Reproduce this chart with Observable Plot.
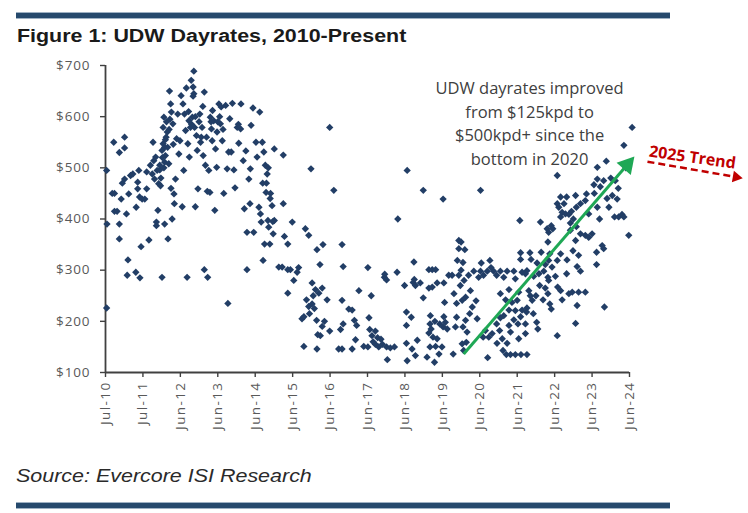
<!DOCTYPE html>
<html><head><meta charset="utf-8">
<script src="https://cdn.jsdelivr.net/npm/d3@7"></script>
<script src="https://cdn.jsdelivr.net/npm/@observablehq/plot@0.6"></script>
<style>
body{margin:0;background:#fff;width:748px;height:513px;position:relative;overflow:hidden;font-family:"Liberation Sans",Arial,sans-serif}
.bar{position:absolute;left:16px;width:654px;height:5px;background:#264a6d;border-top:1px solid #9fb2c4;border-bottom:1px solid #9fb2c4}
#title{position:absolute;left:17px;top:27px;font-size:18px;line-height:18px;font-weight:bold;color:#1a1a1a;white-space:nowrap;transform:scaleX(1.19);transform-origin:0 0}
#source{position:absolute;left:16px;top:467px;font-size:18.5px;line-height:18px;font-style:italic;color:#2a2a2a;white-space:nowrap;transform:scaleX(1.16);transform-origin:0 0}
#chart{position:absolute;left:0;top:50px}
#chart g[aria-label="x-axis tick label"] text{letter-spacing:1.4px}
#chart g[aria-label="y-axis tick label"] text{letter-spacing:0.9px}
</style>
</head><body>
<div class="bar" style="top:12px"></div>
<div id="title">Figure 1: UDW Dayrates, 2010-Present</div>
<div id="chart"></div>
<div id="source">Source: Evercore ISI Research</div>
<div class="bar" style="top:502px"></div>
<script>
// x = years since Jul-10 (tick index), y = dayrate in $k
const xTicks = [0,1,2,3,4,5,6,7,8,9,10,11,12,13,14];
const xLabels = ["Jul-10","Jul-11","Jun-12","Jun-13","Jun-14","Jun-15","Jun-16","Jun-17","Jun-18","Jun-19","Jun-20","Jun-21","Jun-22","Jun-23","Jun-24"];
const yTicks = [100,200,300,400,500,600,700];

const g2010 = [[0.03,495],[0.18,450],[0.24,450],[0.04,390],[0.03,226],[0.22,550],[0.37,530],[0.51,560],[0.51,539],[0.24,415],[0.31,415],[0.37,390],[0.37,361],[0.42,439],[0.45,470],[0.51,478],[0.56,410],[0.62,449],[0.6,320],[0.58,290],[0.67,485],[0.73,488],[0.81,296],[0.82,423],[0.86,472],[0.86,459],[0.89,495],[0.91,443],[0.92,285],[0.95,346],[0.98,439]];
const g2011 = [[1.05,439],[1.1,492],[1.1,459],[1.16,359],[1.2,505],[1.25,488],[1.27,550],[1.29,514],[1.31,478],[1.34,521],[1.36,394],[1.36,387],[1.38,495],[1.4,417],[1.42,469],[1.45,496],[1.47,465],[1.51,286],[1.51,534],[1.54,547],[1.54,579],[1.56,599],[1.58,390],[1.58,511],[1.6,524],[1.62,560],[1.65,570],[1.67,361],[1.69,508],[1.71,650],[1.74,625],[1.75,460],[1.76,609],[1.78,400],[1.8,586],[1.81,546],[1.83,449],[1.84,430],[1.87,478],[1.9,557],[1.93,605],[1.96,527],[1.99,553],[1.58,540],[1.6,555],[1.63,590],[1.66,540],[1.7,575],[1.52,520],[1.45,505],[1.48,480],[1.56,500],[1.72,595]];
const g2012 = [[2.02,641],[2.05,424],[2.07,625],[2.09,495],[2.11,605],[2.14,573],[2.16,656],[2.18,286],[2.2,547],[2.23,592],[2.24,521],[2.27,579],[2.29,671],[2.32,599],[2.34,658],[2.36,689],[2.36,645],[2.38,579],[2.4,424],[2.43,563],[2.45,534],[2.47,459],[2.52,605],[2.54,550],[2.58,579],[2.61,524],[2.64,648],[2.64,301],[2.67,505],[2.72,454],[2.73,286],[2.76,495],[2.79,452],[2.8,599],[2.83,576],[2.85,553],[2.89,592],[2.92,417],[2.94,537],[2.97,501],[2.98,570],[2.22,610],[2.3,585],[2.34,640],[2.4,600],[2.5,590],[2.56,560],[2.7,560],[2.82,590],[2.86,612],[2.6,620]];
const g2013 = [[3.03,625],[3.07,586],[3.09,619],[3.12,553],[3.16,450],[3.21,622],[3.25,498],[3.27,235],[3.29,531],[3.32,596],[3.36,531],[3.39,626],[3.43,496],[3.46,461],[3.52,579],[3.56,548],[3.61,576],[3.62,625],[3.68,514],[3.71,420],[3.75,533],[3.78,301],[3.78,374],[3.83,478],[3.86,430],[3.87,498],[3.89,583],[3.94,617],[3.96,374],[3.05,600],[3.14,575],[3.0,590],[3.55,585]];
const g2014 = [[4.02,550],[4.05,521],[4.1,423],[4.12,609],[4.14,410],[4.16,394],[4.19,550],[4.2,470],[4.21,319],[4.23,531],[4.25,351],[4.27,505],[4.29,452],[4.32,488],[4.34,397],[4.36,384],[4.39,351],[4.41,450],[4.45,426],[4.48,371],[4.51,537],[4.51,397],[4.63,306],[4.75,525],[4.75,430],[4.78,366],[4.87,351],[4.99,394],[4.72,306],[4.87,301],[4.94,301],[4.87,255],[4.3,470],[4.4,440],[4.47,395],[4.35,500]];
const g2015 = [[5.03,280],[5.16,305],[5.12,296],[5.34,381],[5.43,368],[5.49,498],[5.65,340],[5.81,350],[5.73,311],[5.99,579],[5.52,275],[5.61,262],[5.7,255],[5.79,265],[5.37,242],[5.43,229],[5.52,234],[5.92,242],[5.25,205],[5.3,209],[5.64,202],[5.79,190],[5.74,172],[5.67,174],[5.99,181],[5.3,151],[5.65,146],[5.55,250],[5.58,225],[5.45,215],[5.85,200]];
const g2016 = [[6.1,456],[6.32,350],[6.35,307],[6.32,241],[6.5,224],[6.59,222],[6.28,184],[6.35,195],[6.65,202],[6.71,192],[6.23,146],[6.32,146],[6.59,146],[6.68,164],[6.77,260],[6.9,151]];
const g2017 = [[7.01,305],[7.1,250],[7.04,207],[7.06,184],[7.12,172],[7.21,181],[7.27,168],[7.01,150],[7.21,155],[7.3,150],[7.51,150],[7.61,148],[7.72,150],[7.53,125],[7.45,286],[7.51,281],[7.79,296],[7.81,400],[7.99,270],[7.15,160],[7.4,155],[7.46,292],[7.36,165]];
const g2018 = [[8.06,495],[8.04,218],[8.17,208],[8.04,192],[8.04,157],[8.06,123],[8.19,146],[8.24,316],[8.22,276],[8.28,270],[8.41,275],[8.49,456],[8.49,246],[8.33,163],[8.28,133],[8.64,301],[8.73,301],[8.82,301],[8.64,265],[8.73,267],[8.86,275],[8.68,211],[8.67,195],[8.64,177],[8.75,169],[8.86,166],[8.93,195],[8.82,151],[8.99,150],[8.67,150],[8.59,130],[8.79,120],[8.91,136],[8.25,282],[8.7,185],[8.8,200]];
const g2019 = [[9.04,275],[9.02,439],[9.17,290],[9.26,290],[9.02,189],[9.08,198],[9.13,185],[9.04,209],[9.35,189],[9.38,208],[9.29,136],[9.38,235],[9.31,254],[9.06,237],[9.4,319],[9.44,342],[9.44,358],[9.44,290],[9.8,228],[9.73,215],[9.62,247],[9.53,241],[9.62,202],[9.55,189],[9.66,179],[9.53,156],[9.64,159],[9.57,143],[9.97,286],[9.84,298],[9.48,270],[9.5,300],[9.58,280],[9.7,290],[9.75,260],[9.9,240],[9.93,205],[9.5,355],[9.6,340],[9.55,315]];
const g2020 = [[10.02,456],[10.02,298],[10.2,298],[10.37,298],[10.55,298],[10.73,298],[10.91,298],[10.04,314],[10.27,319],[10.64,286],[10.95,283],[10.78,262],[10.55,254],[10.69,242],[10.86,237],[10.64,211],[10.55,207],[10.45,195],[10.53,182],[10.78,192],[10.91,203],[10.82,179],[10.6,166],[10.46,157],[10.73,157],[10.24,169],[10.09,169],[10.15,182],[10.33,176],[10.62,143],[10.71,135],[10.82,135],[10.95,135],[10.21,129],[10.78,222],[10.95,221],[10.1,290],[10.45,290],[10.3,305]];
const g2021 = [[11.07,397],[11.09,334],[11.09,321],[11.34,334],[11.37,321],[11.13,296],[11.26,299],[11.22,293],[11.44,288],[11.53,314],[11.58,293],[11.64,335],[11.0,241],[11.04,257],[11.31,260],[11.35,250],[11.4,241],[11.26,226],[11.13,222],[11.25,218],[11.43,215],[11.52,198],[11.55,185],[11.69,242],[11.82,254],[11.87,234],[11.91,224],[11.02,195],[11.09,209],[11.22,195],[11.04,166],[11.22,176],[11.1,135],[11.26,135],[11.62,394],[11.8,381],[11.84,374],[11.91,387],[11.95,381],[11.82,355],[11.87,332],[11.84,319],[11.75,311],[11.71,298],[11.82,286],[11.84,280],[11.93,306],[11.6,270],[11.75,265],[11.5,250]];
const g2022 = [[12.07,485],[12.07,430],[12.11,423],[12.16,443],[12.2,413],[12.29,410],[12.32,443],[12.38,409],[12.16,404],[12.42,392],[12.58,385],[12.69,371],[12.82,368],[12.91,364],[12.42,378],[12.56,358],[12.56,446],[12.58,423],[12.69,430],[12.82,436],[12.85,449],[12.91,410],[12.64,329],[12.6,307],[12.69,298],[12.49,338],[12.33,320],[12.32,293],[12.16,332],[12.07,319],[12.02,288],[12.08,267],[12.16,260],[12.38,254],[12.47,257],[12.64,257],[12.82,257],[12.2,242],[12.6,231],[12.56,196],[12.07,172],[12.25,430],[12.45,415],[12.5,400]];
const g2023 = [[13.0,371],[13.05,467],[13.06,450],[13.14,501],[13.14,478],[13.14,423],[13.22,463],[13.31,475],[13.38,513],[13.45,423],[13.54,446],[13.6,404],[13.62,475],[13.67,439],[13.71,404],[13.8,409],[13.85,404],[13.85,544],[13.98,368],[14.07,579],[13.27,348],[13.31,342],[13.12,335],[13.12,311],[13.33,228],[13.4,440],[13.7,460],[13.9,500],[13.5,480],[13.2,400]];

const groups = [g2010,g2011,g2012,g2013,g2014,g2015,g2016,g2017,g2018,g2019,g2020,g2021,g2022,g2023];
const points = groups.flatMap(g => g.map(([t, v]) => ({t, v})));

const greenArrow = [{x1: 9.57, y1: 136, x2: 13.94, y2: 506}];
const greenHead = [{x: 13.94, y: 506}];
const redArrow = [{x1: 14.48, y1: 512, x2: 16.85, y2: 482}];
const redHead = [{x: 16.85, y: 482}];
const note = [{x: 11.33, y: 590, text: "UDW dayrates improved\nfrom $125kpd to\n$500kpd+ since the\nbottom in 2020"}];
const trend = [{x: 15.68, y: 520, text: "2025 Trend"}];

const chart = Plot.plot({
  width: 748, height: 400,
  marginLeft: 105, marginRight: 119, marginTop: 15, marginBottom: 78,
  x: {type: "linear", domain: [0, 14]},
  y: {domain: [100, 700]},
  style: {fontFamily: "'Open Sans', sans-serif", fontSize: "13px", background: "transparent", overflow: "visible"},
  marks: [
    Plot.axisY({ticks: yTicks, tickSize: 5, text: null, stroke: "#404040", strokeWidth: 1.4}),
    Plot.axisY({ticks: yTicks, tickSize: 0, tickPadding: 15, tickFormat: d => "$" + d, fill: "#595959", stroke: "none", fontSize: 13.5}),
    Plot.axisX({ticks: xTicks, tickSize: 5, text: null, stroke: "#404040", strokeWidth: 1.4}),
    Plot.axisX({ticks: xTicks, tickSize: 0, tickPadding: 9, tickRotate: -90, tickFormat: i => xLabels[i], fill: "#595959", stroke: "none", fontSize: 13.5}),
    Plot.ruleX([0], {y1: 100, y2: 700, stroke: "#404040", strokeWidth: 1.8}),
    Plot.ruleY([100], {x1: 0, x2: 14, stroke: "#404040", strokeWidth: 1.8}),
    Plot.dot(points, {x: "t", y: "v", symbol: "diamond2", r: 3.3, fill: "#223e66", stroke: "none"}),
    Plot.link(greenArrow, {x1: "x1", y1: "y1", x2: "x2", y2: "y2", stroke: "#1fa855", strokeWidth: 3}),
    Plot.dot(greenHead, {x: "x", y: "y", symbol: "triangle", r: 7, rotate: 41, fill: "#1fa855", stroke: "none"}),
    Plot.link(redArrow, {x1: "x1", y1: "y1", x2: "x2", y2: "y2", stroke: "#c00000", strokeWidth: 2.5, strokeDasharray: "7,4"}),
    Plot.dot(redHead, {x: "x", y: "y", symbol: "triangle", r: 4.3, rotate: 100, fill: "#c00000", stroke: "none"}),
    Plot.text(note, {x: "x", y: "y", text: "text", fontSize: 16.5, lineHeight: 1.44, fill: "#404040", textAnchor: "middle", lineAnchor: "middle"}),
    Plot.text(trend, {x: "x", y: "y", text: "text", rotate: 8, fontSize: 16, fontWeight: "bold", fill: "#c00000"})
  ]
});
document.getElementById("chart").append(chart);
</script>
</body></html>
